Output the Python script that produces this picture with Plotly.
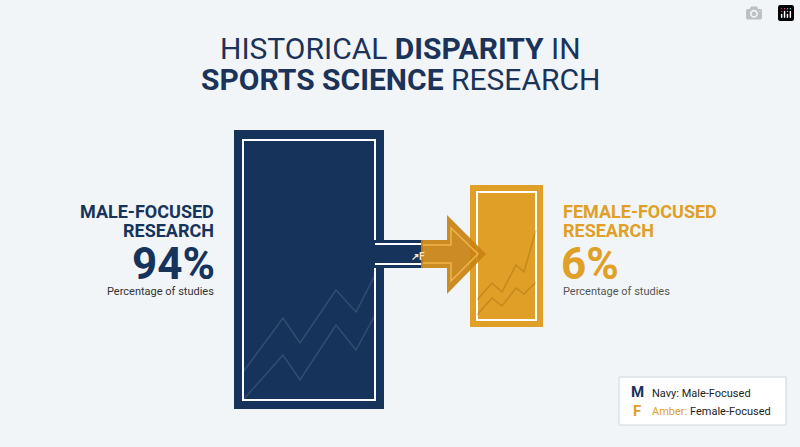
import plotly.graph_objects as go

NAVY = "#16335b"
AMBER = "#e09f26"
BG = "#f1f5f8"

categories = ["Male-Focused", "Female-Focused"]
shares = [94, 6]
caption = "Percentage of studies"

# decorative trend lines inside the boxes
male_line1_x = [243, 283, 300, 336, 356, 375]
male_line1_y = [372, 318, 343, 290, 312, 275]
male_line2_x = [243, 283, 300, 336, 356, 375]
male_line2_y = [400, 355, 380, 325, 350, 315]
fem_line1_x = [477, 492, 502, 516, 524, 536]
fem_line1_y = [300, 283, 292, 265, 272, 230]
fem_line2_x = [477, 492, 502, 516, 524, 536]
fem_line2_y = [315, 298, 306, 288, 294, 282]

fig = go.Figure()
for xs, ys, c in [(male_line1_x, male_line1_y, "rgba(255,255,255,0.13)"),
                  (male_line2_x, male_line2_y, "rgba(255,255,255,0.13)"),
                  (fem_line1_x, fem_line1_y, "rgba(120,70,0,0.25)"),
                  (fem_line2_x, fem_line2_y, "rgba(120,70,0,0.25)")]:
    fig.add_trace(go.Scatter(x=xs, y=ys, mode="lines", line=dict(color=c, width=1.5),
                             hoverinfo="skip", showlegend=False))

shapes = []
def rect(x0, y0, x1, y1, fill=None, line=None, lw=0):
    shapes.append(dict(type="rect", x0=x0, y0=y0, x1=x1, y1=y1, layer="below",
                       fillcolor=fill or "rgba(0,0,0,0)",
                       line=dict(color=line or "rgba(0,0,0,0)", width=lw)))

# navy box
rect(234, 130, 384, 409, fill=NAVY)
rect(243, 140, 375, 400, line="white", lw=2)
# navy channel
rect(374, 240, 423, 268, fill=NAVY)
shapes.append(dict(type="line", x0=375, y0=244, x1=423, y1=244, line=dict(color="white", width=2), layer="below"))
shapes.append(dict(type="line", x0=375, y0=264, x1=423, y1=264, line=dict(color="white", width=2), layer="below"))
# amber box
rect(470, 185, 543, 327, fill=AMBER)
rect(477, 192, 536, 320, line="white", lw=2)
fig.update_layout(shapes=shapes)
# amber arrow (above)
fig.add_shape(type="path", path="M 421 240 L 447 240 L 447 215 L 486 254 L 447 294 L 447 268 L 421 268 Z",
              fillcolor="rgba(200,130,20,0.92)", line=dict(width=0))
fig.add_shape(type="path", path="M 423 245 L 451 245 L 451 228 L 478 254 L 451 281 L 451 263 L 423 263",
              line=dict(color="rgba(250,190,80,0.8)", width=1.5))

ann = []
def txt(x, y, s, size, color, anchor="center", weight="normal"):
    ann.append(dict(x=x, y=y, text=s, showarrow=False, xanchor=anchor, yanchor="middle",
                    font=dict(size=size, color=color, family="Roboto", weight=weight)))

txt(400, 48, "HISTORICAL <b>DISPARITY</b> IN", 30, "#1b3358")
txt(400, 79, "<b>SPORTS SCIENCE</b> RESEARCH", 30, "#1b3358")

txt(216, 211, "<b>MALE-FOCUSED</b>", 18, NAVY, "right")
txt(216, 230, "<b>RESEARCH</b>", 18, NAVY, "right")
txt(217, 264, f"<b>{shares[0]}%</b>", 44, NAVY, "right")
txt(216, 291, caption, 11, "#333", "right")

txt(561, 211, "<b>FEMALE-FOCUSED</b>", 18, AMBER, "left")
txt(561, 230, "<b>RESEARCH</b>", 18, AMBER, "left")
txt(559, 264, f"<b>{shares[1]}%</b>", 44, AMBER, "left")
txt(561, 291, caption, 11, "#555", "left")

txt(418, 256, "<b>↗F</b>", 10, "#f5e6c8")

# legend box
fig.add_shape(type="rect", x0=619, y0=377, x1=786, y1=425, fillcolor="white",
              line=dict(color="#d0d6dc", width=1))
txt(637, 392, "<b>M</b>", 15, NAVY)
txt(637, 411, "<b>F</b>", 15, AMBER)
txt(650, 393, "Navy: " + categories[0], 11, "#222", "left")
txt(650, 411, f"<span style='color:{AMBER}'>Amber:</span> " + categories[1], 11, "#222", "left")

fig.update_layout(
    annotations=ann, width=800, height=447, margin=dict(l=0, r=0, t=0, b=0),
    paper_bgcolor=BG, plot_bgcolor=BG,
    xaxis=dict(range=[0, 800], visible=False, fixedrange=True),
    yaxis=dict(range=[447, 0], visible=False, fixedrange=True),
)
fig.write_html("out.html", post_script="document.body.style.margin='0';document.body.style.overflow='hidden';")
